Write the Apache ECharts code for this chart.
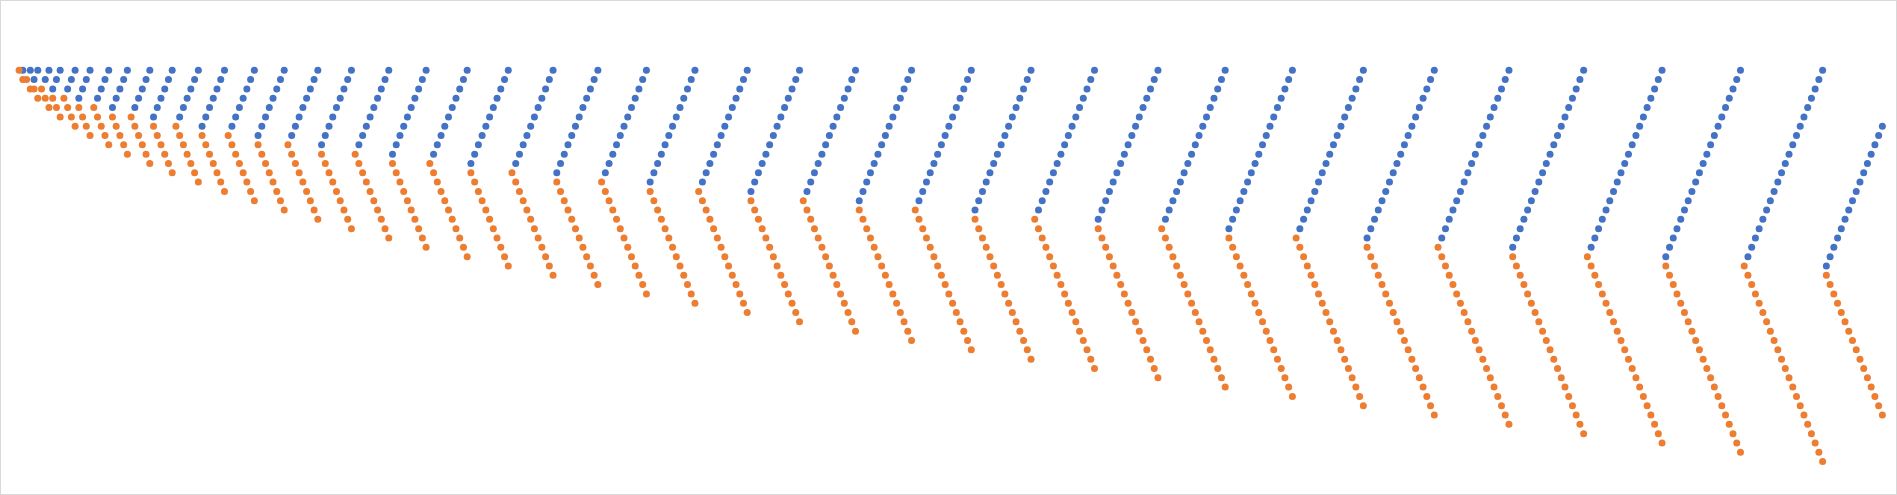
<!DOCTYPE html>
<html>
<head>
<meta charset="utf-8">
<script src="https://cdn.jsdelivr.net/npm/echarts@6/dist/echarts.min.js"></script>
<style>
  html, body { margin: 0; padding: 0; background: #ffffff; }
  #wrap { position: relative; width: 1897px; height: 495px; }
  #chart { position: absolute; left: 0; top: 0; width: 1897px; height: 495px; }
  #frame { position: absolute; left: 0; top: 0; width: 1897px; height: 495px; box-sizing: border-box; border: 1px solid #d9d9d9; pointer-events: none; }
</style>
</head>
<body>
<div id="wrap"><div id="chart"></div><div id="frame"></div></div>
<script>
// X values shared by both series
const xValues = [
  0,1,2,3,4,5,6,7,8,9,10,11,12,13,14,15,16,17,18,19,20,21,22,23,24,
  25,26,27,28,29,30,31,32,33,34,35,36,37,38,39,40,41,42,43,44,45,46,47,48,49,
  50,51,52,53,54,55,56,57,58,59,60,61,62,63,64,65,66,67,68,69,70,71,72,73,74,
  75,76,77,78,79,80,81,82,83,84,85,86,87,88,89,90,91,92,93,94,95,96,97,98,99,
  100,101,102,103,104,105,106,107,108,109,110,111,112,113,114,115,116,117,118,119,120,121,122,123,124,
  125,126,127,128,129,130,131,132,133,134,135,136,137,138,139,140,141,142,143,144,145,146,147,148,149,
  150,151,152,153,154,155,156,157,158,159,160,161,162,163,164,165,166,167,168,169,170,171,172,173,174,
  175,176,177,178,179,180,181,182,183,184,185,186,187,188,189,190,191,192,193,194,195,196,197,198,199,
  200,201,202,203,204,205,206,207,208,209,210,211,212,213,214,215,216,217,218,219,220,221,222,223,224,
  225,226,227,228,229,230,231,232,233,234,235,236,237,238,239,240,241,242,243,244,245,246,247,248,249,
  250,251,252,253,254,255,256,257,258,259,260,261,262,263,264,265,266,267,268,269,270,271,272,273,274,
  275,276,277,278,279,280,281,282,283,284,285,286,287,288,289,290,291,292,293,294,295,296,297,298,299,
  300,301,302,303,304,305,306,307,308,309,310,311,312,313,314,315,316,317,318,319,320,321,322,323,324,
  325,326,327,328,329,330,331,332,333,334,335,336,337,338,339,340,341,342,343,344,345,346,347,348,349,
  350,351,352,353,354,355,356,357,358,359,360,361,362,363,364,365,366,367,368,369,370,371,372,373,374,
  375,376,377,378,379,380,381,382,383,384,385,386,387,388,389,390,391,392,393,394,395,396,397,398,399,
  400,401,402,403,404,405,406,407,408,409,410,411,412,413,414,415,416,417,418,419,420,421,422,423,424,
  425,426,427,428,429,430,431,432,433,434,435,436,437,438,439,440,441,442,443,444,445,446,447,448,449,
  450,451,452,453,454,455,456,457,458,459,460,461,462,463,464,465,466,467,468,469,470,471,472,473,474,
  475,476,477,478,479,480,481,482,483,484,485,486,487,488,489,490,491,492,493,494,495,496,497,498,499
];

// Blue series: row (downwards) for each x; null = no blue point at that x
const blueY = [
  null,
  0,
  null,0,
  1,0,
  null,1,0,
  2,1,0,
  null,2,1,0,
  3,2,1,0,
  null,3,2,1,0,
  4,3,2,1,0,
  null,4,3,2,1,0,
  5,4,3,2,1,0,
  null,5,4,3,2,1,0,
  6,5,4,3,2,1,0,
  null,6,5,4,3,2,1,0,
  7,6,5,4,3,2,1,0,
  null,7,6,5,4,3,2,1,0,
  8,7,6,5,4,3,2,1,0,
  null,8,7,6,5,4,3,2,1,0,
  9,8,7,6,5,4,3,2,1,0,
  null,9,8,7,6,5,4,3,2,1,0,
  10,9,8,7,6,5,4,3,2,1,0,
  null,10,9,8,7,6,5,4,3,2,1,0,
  11,10,9,8,7,6,5,4,3,2,1,0,
  null,11,10,9,8,7,6,5,4,3,2,1,0,
  12,11,10,9,8,7,6,5,4,3,2,1,0,
  null,12,11,10,9,8,7,6,5,4,3,2,1,0,
  13,12,11,10,9,8,7,6,5,4,3,2,1,0,
  null,13,12,11,10,9,8,7,6,5,4,3,2,1,0,
  14,13,12,11,10,9,8,7,6,5,4,3,2,1,0,
  null,14,13,12,11,10,9,8,7,6,5,4,3,2,1,0,
  15,14,13,12,11,10,9,8,7,6,5,4,3,2,1,0,
  null,15,14,13,12,11,10,9,8,7,6,5,4,3,2,1,0,
  16,15,14,13,12,11,10,9,8,7,6,5,4,3,2,1,0,
  null,16,15,14,13,12,11,10,9,8,7,6,5,4,3,2,1,0,
  17,16,15,14,13,12,11,10,9,8,7,6,5,4,3,2,1,0,
  null,17,16,15,14,13,12,11,10,9,8,7,6,5,4,3,2,1,0,
  18,17,16,15,14,13,12,11,10,9,8,7,6,5,4,3,2,1,0,
  null,18,17,16,15,14,13,12,11,10,9,8,7,6,5,4,3,2,1,0,
  19,18,17,16,15,14,13,12,11,10,9,8,7,6,5,4,3,2,1,0,
  null,19,18,17,16,15,14,13,12,11,10,9,8,7,6,5,4,3,2,1,0,
  20,19,18,17,16,15,14,13,12,11,10,9,8,7,6,5,4,3,2,1,0,
  null,20,19,18,17,16,15,14,13,12,11,10,9,8,7,6,5,4,3,2,1,0,
  21,20,19,18,17,16,15,14,13,12,11,10,9,8,7,6
];

// Orange series: row (downwards) for each x
const orangeY = [
  0,
  1,
  1,2,
  2,3,
  2,3,4,
  3,4,5,
  3,4,5,6,
  4,5,6,7,
  4,5,6,7,8,
  5,6,7,8,9,
  5,6,7,8,9,10,
  6,7,8,9,10,11,
  6,7,8,9,10,11,12,
  7,8,9,10,11,12,13,
  7,8,9,10,11,12,13,14,
  8,9,10,11,12,13,14,15,
  8,9,10,11,12,13,14,15,16,
  9,10,11,12,13,14,15,16,17,
  9,10,11,12,13,14,15,16,17,18,
  10,11,12,13,14,15,16,17,18,19,
  10,11,12,13,14,15,16,17,18,19,20,
  11,12,13,14,15,16,17,18,19,20,21,
  11,12,13,14,15,16,17,18,19,20,21,22,
  12,13,14,15,16,17,18,19,20,21,22,23,
  12,13,14,15,16,17,18,19,20,21,22,23,24,
  13,14,15,16,17,18,19,20,21,22,23,24,25,
  13,14,15,16,17,18,19,20,21,22,23,24,25,26,
  14,15,16,17,18,19,20,21,22,23,24,25,26,27,
  14,15,16,17,18,19,20,21,22,23,24,25,26,27,28,
  15,16,17,18,19,20,21,22,23,24,25,26,27,28,29,
  15,16,17,18,19,20,21,22,23,24,25,26,27,28,29,30,
  16,17,18,19,20,21,22,23,24,25,26,27,28,29,30,31,
  16,17,18,19,20,21,22,23,24,25,26,27,28,29,30,31,32,
  17,18,19,20,21,22,23,24,25,26,27,28,29,30,31,32,33,
  17,18,19,20,21,22,23,24,25,26,27,28,29,30,31,32,33,34,
  18,19,20,21,22,23,24,25,26,27,28,29,30,31,32,33,34,35,
  18,19,20,21,22,23,24,25,26,27,28,29,30,31,32,33,34,35,36,
  19,20,21,22,23,24,25,26,27,28,29,30,31,32,33,34,35,36,37,
  19,20,21,22,23,24,25,26,27,28,29,30,31,32,33,34,35,36,37,38,
  20,21,22,23,24,25,26,27,28,29,30,31,32,33,34,35,36,37,38,39,
  20,21,22,23,24,25,26,27,28,29,30,31,32,33,34,35,36,37,38,39,40,
  21,22,23,24,25,26,27,28,29,30,31,32,33,34,35,36,37,38,39,40,41,
  21,22,23,24,25,26,27,28,29,30,31,32,33,34,35,36,37,38,39,40,41,42,
  22,23,24,25,26,27,28,29,30,31,32,33,34,35,36,37
];

function toPairs(ys) {
  const out = [];
  for (let i = 0; i < xValues.length; i++) {
    if (ys[i] !== null && ys[i] !== undefined) out.push([xValues[i], ys[i]]);
  }
  return out;
}

const chart = echarts.init(document.getElementById('chart'), null, { renderer: 'canvas' });
chart.setOption({
  animation: false,
  backgroundColor: '#ffffff',
  grid: { left: 19.1, top: 70.3, width: 1867, height: 409.95 },
  xAxis: { type: 'value', min: 0, max: 500, show: false },
  yAxis: { type: 'value', min: 0, max: 44, inverse: true, show: false },
  series: [
    {
      name: 'Series1', type: 'scatter', symbol: 'circle', symbolSize: 7, clip: false,
      itemStyle: { color: '#4472C4', opacity: 1 },
      data: toPairs(blueY)
    },
    {
      name: 'Series2', type: 'scatter', symbol: 'circle', symbolSize: 7, clip: false,
      itemStyle: { color: '#ED7D31', opacity: 1 },
      data: toPairs(orangeY)
    }
  ]
});
</script>
</body>
</html>
